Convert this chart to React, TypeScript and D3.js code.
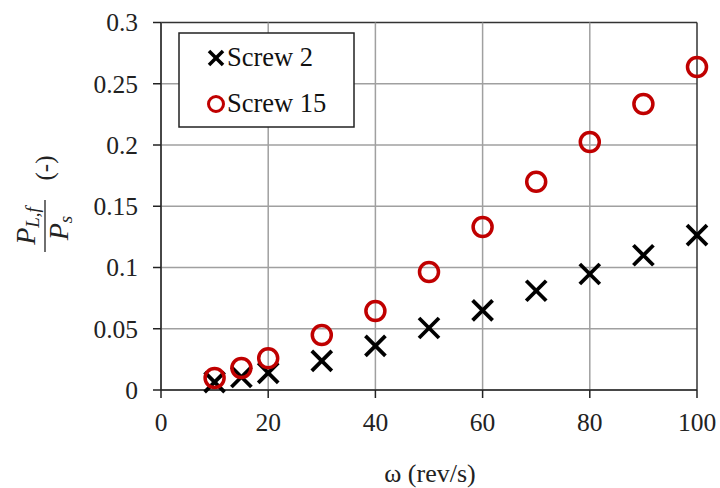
import React from "react";
import * as d3 from "d3";

const speeds = [10, 15, 20, 30, 40, 50, 60, 70, 80, 90, 100];
const screw2 = [0.0065, 0.0106, 0.014, 0.0237, 0.036, 0.0506, 0.065, 0.081, 0.0947, 0.11, 0.1265];
const screw15 = [0.0098, 0.018, 0.026, 0.0449, 0.0645, 0.0963, 0.133, 0.17, 0.2024, 0.2335, 0.2637];
const xTicks = [0, 20, 40, 60, 80, 100];
const yTicks = [0, 0.05, 0.1, 0.15, 0.2, 0.25, 0.3];
const legendLabels = ["Screw 2", "Screw 15"];

const W = 720, H = 488;
const left = 161, right = 697, top = 22.5, bottom = 390;
const FONT = "'Liberation Serif', 'Times New Roman', serif";
const RED = "#c00000";

function XMark({ x, y, s, w }: { x: number; y: number; s: number; w: number }) {
  return (
    <g stroke="#000" strokeWidth={w}>
      <line x1={x - s} y1={y - s} x2={x + s} y2={y + s} />
      <line x1={x - s} y1={y + s} x2={x + s} y2={y - s} />
    </g>
  );
}

export default function App() {
  const x = d3.scaleLinear().domain([0, 100]).range([left, right]);
  const y = d3.scaleLinear().domain([0, 0.3]).range([bottom, top]);
  const fmt = (v: number) => String(+v.toFixed(2));

  return (
    <svg width={W} height={H} style={{ position: "absolute", left: 0, top: 0, background: "#fff" }} fontFamily={FONT}>
      <rect width={W} height={H} fill="#fff" />
      {/* gridlines */}
      {yTicks.map((t) => (
        <line key={"gy" + t} x1={left} x2={right} y1={y(t)} y2={y(t)} stroke={t === 0.3 ? "#333" : "#a0a0a0"} strokeWidth={1.5} />
      ))}
      {xTicks.map((t) => (
        <line key={"gx" + t} x1={x(t)} x2={x(t)} y1={top} y2={bottom} stroke={t === 100 ? "#333" : "#a0a0a0"} strokeWidth={1.5} />
      ))}
      {/* axes */}
      <line x1={left} x2={left} y1={top} y2={bottom} stroke="#222" strokeWidth={1.5} />
      <line x1={left} x2={right} y1={bottom} y2={bottom} stroke="#222" strokeWidth={1.5} />
      {yTicks.map((t) => (
        <g key={"ty" + t}>
          <line x1={left - 8} x2={left} y1={y(t)} y2={y(t)} stroke="#222" strokeWidth={1.5} />
          <text x={138} y={y(t)} dy="0.35em" textAnchor="end" fontSize={25.5} fill="#222">{fmt(t)}</text>
        </g>
      ))}
      {xTicks.map((t) => (
        <g key={"tx" + t}>
          <line x1={x(t)} x2={x(t)} y1={bottom} y2={bottom + 8} stroke="#222" strokeWidth={1.5} />
          <text x={x(t)} y={431} textAnchor="middle" fontSize={25.5} fill="#222">{t}</text>
        </g>
      ))}
      {/* data */}
      {speeds.map((s, i) => (
        <XMark key={"a" + i} x={x(s)} y={y(screw2[i])} s={10} w={3.8} />
      ))}
      {speeds.map((s, i) => (
        <circle key={"b" + i} cx={x(s)} cy={y(screw15[i])} r={9.5} fill="none" stroke={RED} strokeWidth={3.5} />
      ))}
      {/* legend */}
      <rect x={179} y={33} width={175} height={94} fill="#fff" stroke="#222" strokeWidth={1.5} />
      <XMark x={216} y={58} s={7} w={3.5} />
      <text x={227} y={66} fontSize={26.5} fill="#111">{legendLabels[0]}</text>
      <circle cx={216} cy={104} r={7.5} fill="none" stroke={RED} strokeWidth={3} />
      <text x={227} y={112} fontSize={26.5} fill="#111">{legendLabels[1]}</text>
      {/* axis titles */}
      <text x={430} y={482} textAnchor="middle" fontSize={26} fill="#222">ω (rev/s)</text>
      <g transform="translate(45,226) rotate(-90)" fill="#222">
        <text x={0} y={-10} textAnchor="middle" fontSize={28} fontStyle="italic">
          P<tspan fontSize={19} dy={4}>L,f</tspan>
        </text>
        <line x1={-26} x2={26} y1={0} y2={0} stroke="#222" strokeWidth={1.3} />
        <text x={-2} y={23} textAnchor="middle" fontSize={28} fontStyle="italic">
          P<tspan fontSize={19} dy={4}>s</tspan>
        </text>
        <text x={58} y={8} textAnchor="middle" fontSize={25}>(-)</text>
      </g>
    </svg>
  );
}
